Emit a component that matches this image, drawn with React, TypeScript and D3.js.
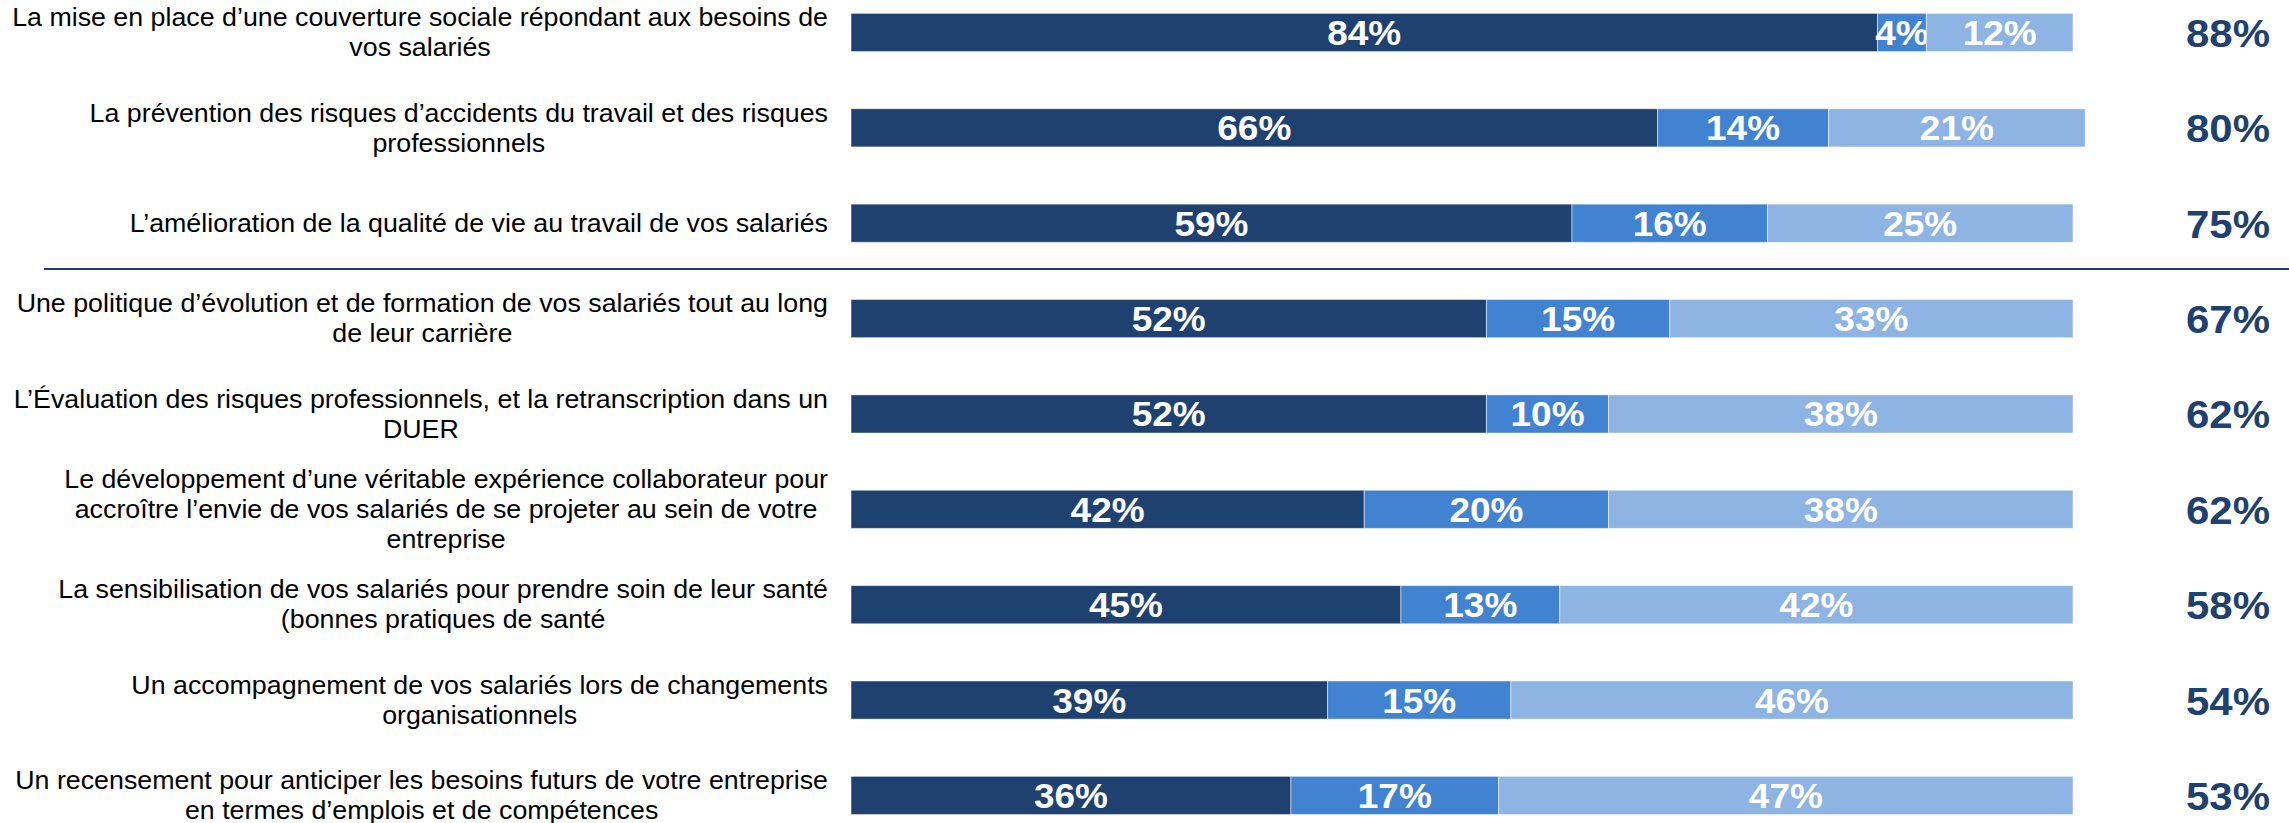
import React, { useEffect, useRef } from "react";
import * as d3 from "d3";

const W = 2289;
const H = 823;

const categories: string[][] = [
  ["La mise en place d’une couverture sociale répondant aux besoins de", "vos salariés"],
  ["La prévention des risques d’accidents du travail et des risques", "professionnels"],
  ["L’amélioration de la qualité de vie au travail de vos salariés"],
  ["Une politique d’évolution et de formation de vos salariés tout au long", "de leur carrière"],
  ["L’Évaluation des risques professionnels, et la retranscription dans un", "DUER"],
  [
    "Le développement d’une véritable expérience collaborateur pour",
    "accroître l’envie de vos salariés de se projeter au sein de votre",
    "entreprise",
  ],
  ["La sensibilisation de vos salariés pour prendre soin de leur santé", "(bonnes pratiques de santé"],
  ["Un accompagnement de vos salariés lors de changements", "organisationnels"],
  ["Un recensement pour anticiper les besoins futurs de votre entreprise", "en termes d’emplois et de compétences"],
];

const seriesDark = [84, 66, 59, 52, 52, 42, 45, 39, 36];
const seriesMid = [4, 14, 16, 15, 10, 20, 13, 15, 17];
const seriesLight = [12, 21, 25, 33, 38, 38, 42, 46, 47];
const totals = [88, 80, 75, 67, 62, 62, 58, 54, 53];
const separatorAfter = 2; // line drawn after the 3rd row

const COLORS = ["#1F4170", "#4283D1", "#8DB4E2"];
const TOTAL_COLOR = "#1F4170";
const FONT = "'Liberation Sans', Arial, Helvetica, sans-serif";
const YFIT = 0.936;

export default function App() {
  const ref = useRef<SVGSVGElement | null>(null);

  useEffect(() => {
    document.body.style.margin = "0";
    document.body.style.overflow = "hidden";
    const svg = d3.select(ref.current);
    svg.selectAll("*").remove();

    const x = d3.scaleLinear().domain([0, 100]).range([851, 2073]);
    const idx = categories.map((_, i) => String(i));
    const step = 95.1;
    const y0 = 14.3;
    const y = d3
      .scaleBand<string>()
      .domain(idx)
      .range([y0, y0 + step * categories.length])
      .paddingInner(0.6)
      .paddingOuter(0)
      .align(0);

    const rows = categories.map((c, i) => ({
      i,
      key: String(i),
      lines: c,
      vals: [seriesDark[i], seriesMid[i], seriesLight[i]],
      total: totals[i],
    }));

    svg.append("rect").attr("x", 0).attr("y", 0).attr("width", W).attr("height", H).attr("fill", "#ffffff");

    const root = svg.append("g").attr("transform", `scale(1, ${YFIT})`);
    const g = root.append("g");
    rows.forEach((r) => {
      let acc = 0;
      r.vals.forEach((v, k) => {
        const x0 = x(acc);
        const x1 = x(acc + v);
        acc += v;
        g.append("rect")
          .attr("x", x0)
          .attr("y", y(r.key)!)
          .attr("width", x1 - x0)
          .attr("height", y.bandwidth())
          .attr("fill", COLORS[k])
          .attr("stroke", "#ffffff")
          .attr("stroke-opacity", 0.5)
          .attr("stroke-width", 1);
        g.append("text")
          .attr("x", (x0 + x1) / 2)
          .attr("y", y(r.key)! + y.bandwidth() / 2 + 1)
          .attr("text-anchor", "middle")
          .attr("dominant-baseline", "central")
          .attr("fill", "#ffffff")
          .attr("font-family", FONT)
          .attr("font-weight", "bold")
          .attr("font-size", 37)
          .text(`${v}%`);
      });

      g.append("text")
        .attr("x", 2270)
        .attr("y", y(r.key)! + y.bandwidth() / 2 + 1)
        .attr("text-anchor", "end")
        .attr("dominant-baseline", "central")
        .attr("fill", TOTAL_COLOR)
        .attr("font-family", FONT)
        .attr("font-weight", "bold")
        .attr("font-size", 42)
        .text(`${r.total}%`);

      const lh = 32;
      const cy = y(r.key)! + y.bandwidth() / 2;
      const lg = g.append("g");
      const texts = r.lines.map((line, li) =>
        lg
          .append("text")
          .attr("y", cy + (li - (r.lines.length - 1) / 2) * lh)
          .attr("text-anchor", "middle")
          .attr("dominant-baseline", "central")
          .attr("fill", "#000000")
          .attr("font-family", FONT)
          .attr("font-size", 26.8)
          .text(line)
      );
      const maxW = d3.max(texts, (t) => (t.node() as SVGTextElement).getComputedTextLength()) || 0;
      const right = 828;
      texts.forEach((t) => t.attr("x", right - maxW / 2));
    });

    const sepY = (y(String(separatorAfter))! + y.bandwidth() + y(String(separatorAfter + 1))!) / 2 - 2;
    root
      .append("line")
      .attr("x1", 44)
      .attr("x2", W)
      .attr("y1", sepY)
      .attr("y2", sepY)
      .attr("stroke", "#1F3A73")
      .attr("stroke-width", 2.2);
  }, []);

  return (
    <svg
      ref={ref}
      viewBox={`0 0 ${W} ${H}`}
      preserveAspectRatio="none"
      style={{ position: "fixed", left: 0, top: 0, width: "100vw", height: "100vh", display: "block" }}
    />
  );
}
